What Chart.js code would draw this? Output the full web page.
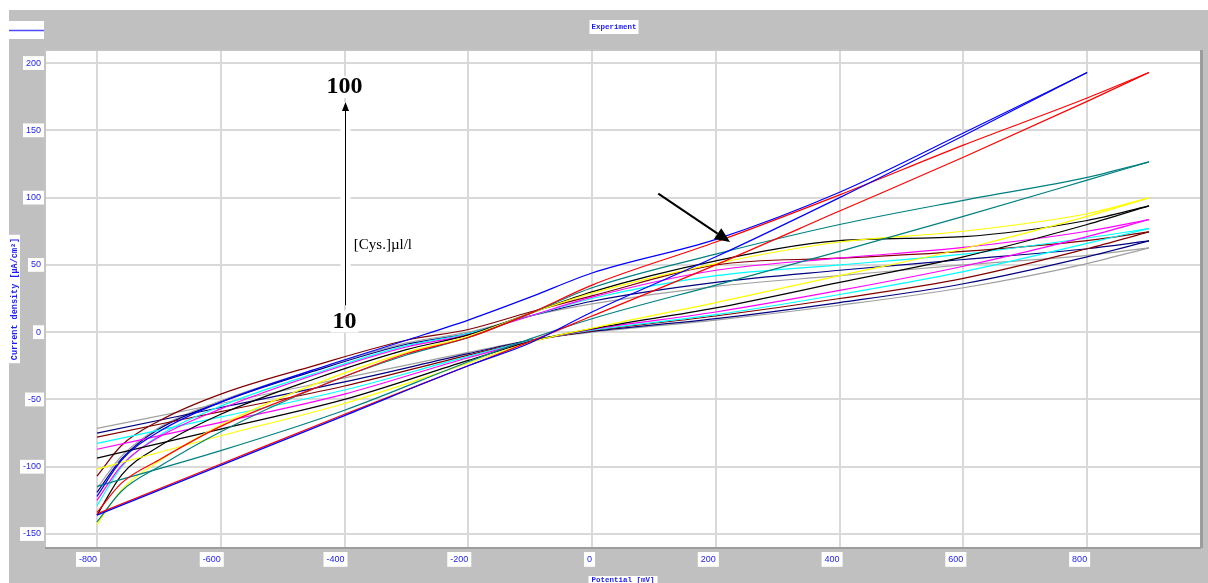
<!DOCTYPE html>
<html>
<head>
<meta charset="utf-8">
<script src="https://cdn.jsdelivr.net/npm/chart.js@4.4.1/dist/chart.umd.min.js"></script>
<style>
  html, body { margin: 0; padding: 0; background: #ffffff; }
  canvas { display: block; }
</style>
</head>
<body>
<canvas id="cv" width="1208" height="583"></canvas>
<script>
// Potential steps (mV) of the anodic (upper) and return (lower) sweeps
const upPotential   = [-800, -760, -700, -600, -450, -300, -200, -100, 0, 200, 400, 600, 800, 900];
const downPotential = [-800, -600, -400, -200, -100, 0, 200, 400, 600, 800, 900];

// Current density (µA/cm²), one pair of arrays per cysteine concentration
const cys10Up    = [-116, -92, -71, -51, -28, -8, 0, 12, 21, 34, 42, 50, 57, 62.7];
const cys10Down  = [-71.5, -53, -34, -15, -6, 0, 9, 20, 33, 51, 62.7];
const cys20Up    = [-119, -94, -72, -52, -29, -9, -1, 12, 23, 37, 46, 54, 62, 67.8];
const cys20Down  = [-75, -56, -37, -16, -6, 0.5, 10, 22, 36, 56, 67.8];
const cys30Up    = [-107, -84, -66, -46, -25, -6, 2, 15, 27, 50, 55, 60, 68, 74.5];
const cys30Down  = [-78, -59, -40, -17, -6.5, 1, 12, 25, 40, 62, 74.5];
const cys40Up    = [-129, -100, -77, -55, -31, -10, -1, 12, 25, 42, 50, 58, 70, 77];
const cys40Down  = [-82.6, -63, -43, -18, -6.5, 1.5, 13, 28, 45, 66, 77];
const cys50Up    = [-125, -99, -78, -57, -32, -11, -2, 12, 26, 46, 55, 63, 75, 83.7];
const cys50Down  = [-87, -67, -46, -19, -7, 2, 15, 31, 49, 71, 83.7];
const cys60Up    = [-136, -106, -85, -61, -35, -13, -2, 14, 30, 53, 68, 71, 83, 93.9];
const cys60Down  = [-93.6, -72, -50, -21, -7, 2.5, 18, 37, 56, 80, 93.9];
const cys70Up    = [-143, -117, -96, -69, -39, -15, -3, 14, 29, 51, 67, 75, 88, 99.8];
const cys70Down  = [-101.8, -77, -53, -23, -7.5, 3, 22, 42, 62, 86, 99.8];
const cys80Up    = [-141, -118, -100, -74, -42, -17, -4, 14, 33, 58, 80, 98, 115, 126.6];
const cys80Down  = [-114.6, -88, -58, -22, -5, 10, 35, 60, 86, 113, 126.6];
const cys90Up    = [-134, -112, -95, -70, -42, -16, -4, 14, 35, 67, 102, 139, 174, 193];
const cys90Down  = [-135, -98, -61, -25, -7, 12, 50, 90, 130, 171.5, 193];
const cys100Up   = [-122, -95, -74, -52, -28, -6, 9, 26, 44, 69, 104, 148, 193, null];
const cys100Down = [-136, -99, -62, -25, -8, 15, 56, 100, 146, 193, null];

const curveColors = ['#0000ff', '#ff0000', '#008080', '#ffff00', '#000000',
                     '#ff00ff', '#00ffff', '#800000', '#000080', '#a0a0a0'];

// Axis tick values
const potentialTicks = [-800, -600, -400, -200, 0, 200, 400, 600, 800];
const currentTicks   = [-150, -100, -50, 0, 50, 100, 150, 200];

// Concentration arrow and pointer, placed in data units
const concArrow = { x: -400, from: 20, to: 171 };
const concLabelHigh = { x: -400, y: 182, text: '100' };
const concLabelLow  = { x: -400, y: 8, text: '10' };
const concUnit = { x: -385, y: 65, text: '[Cys.]µl/l' };
const pointer = { x0: 107, y0: 103, x1: 223, y1: 67 };

const series = [
  { name: '100', color: curveColors[0], up: cys100Up, down: cys100Down },
  { name: '90',  color: curveColors[1], up: cys90Up,  down: cys90Down },
  { name: '80',  color: curveColors[2], up: cys80Up,  down: cys80Down },
  { name: '70',  color: curveColors[3], up: cys70Up,  down: cys70Down },
  { name: '60',  color: curveColors[4], up: cys60Up,  down: cys60Down },
  { name: '50',  color: curveColors[5], up: cys50Up,  down: cys50Down },
  { name: '40',  color: curveColors[6], up: cys40Up,  down: cys40Down },
  { name: '30',  color: curveColors[7], up: cys30Up,  down: cys30Down },
  { name: '20',  color: curveColors[8], up: cys20Up,  down: cys20Down },
  { name: '10',  color: curveColors[9], up: cys10Up,  down: cys10Down }
];

function toPoints(xs, ys) {
  return xs.map((x, i) => ({ x: x, y: ys[i] })).filter(p => p.y !== null && p.y !== undefined);
}

const datasets = [];
series.forEach(s => {
  [['up', upPotential], ['down', downPotential]].forEach(([key, xs]) => {
    datasets.push({
      label: s.name + ' µl/l ' + key,
      data: toPoints(xs, s[key]),
      borderColor: s.color,
      backgroundColor: s.color,
      borderWidth: 1.2,
      showLine: true,
      pointRadius: 0,
      pointHoverRadius: 0,
      cubicInterpolationMode: 'monotone',
      fill: false
    });
  });
});

const BLUE_TEXT = '#1a1aff';
const MONO = '"Liberation Mono", "DejaVu Sans Mono", monospace';

const decorations = {
  id: 'decorations',
  beforeDraw(chart) {
    const { ctx, chartArea: a, width, height } = chart;
    ctx.save();
    ctx.fillStyle = '#ffffff';
    ctx.fillRect(0, 0, width, height);
    ctx.fillStyle = '#c0c0c0';
    ctx.fillRect(9, 10, width - 9, height - 10);
    ctx.fillStyle = '#ffffff';
    ctx.fillRect(a.left, a.top, a.right - a.left, a.bottom - a.top);

    // legend swatch
    ctx.fillRect(9, 21, 35, 18);
    ctx.strokeStyle = '#4d4dff';
    ctx.lineWidth = 1.5;
    ctx.beginPath(); ctx.moveTo(9, 30.5); ctx.lineTo(44, 30.5); ctx.stroke();

    // chart title
    ctx.font = 'bold 7.5px ' + MONO;
    const tw = ctx.measureText('Experiment').width;
    const tcx = 614, tcy = 27;
    ctx.fillStyle = '#ffffff';
    ctx.fillRect(tcx - tw / 2 - 2, 20, tw + 4, 14);
    ctx.fillStyle = BLUE_TEXT;
    ctx.textAlign = 'center';
    ctx.textBaseline = 'middle';
    ctx.fillText('Experiment', tcx, tcy);

    // white backdrops behind the axis titles
    const yTitle = chart.options.scales.y.title;
    ctx.font = 'bold ' + yTitle.font.size + 'px ' + MONO;
    const yw = ctx.measureText(yTitle.text).width;
    const ymid = (a.top + a.bottom) / 2;
    ctx.fillStyle = '#ffffff';
    ctx.fillRect(9, ymid - yw / 2 - 3, 11, yw + 6);

    const xTitle = chart.options.scales.x.title;
    ctx.font = 'bold ' + xTitle.font.size + 'px ' + MONO;
    const xw = ctx.measureText(xTitle.text).width;
    const xmid = (a.left + a.right) / 2;
    ctx.fillRect(xmid - xw / 2 - 3, 576, xw + 6, 8);
    ctx.restore();
  },
  beforeDatasetsDraw(chart) {
    const { ctx, chartArea: a } = chart;
    ctx.save();
    ctx.lineWidth = 2;
    ctx.strokeStyle = '#c4c4c4';
    ctx.beginPath();
    ctx.moveTo(a.left, a.bottom); ctx.lineTo(a.left, a.top); ctx.lineTo(a.right, a.top);
    ctx.stroke();
    ctx.strokeStyle = '#9c9c9c';
    ctx.beginPath(); ctx.moveTo(a.left, a.bottom); ctx.lineTo(a.right, a.bottom); ctx.stroke();
    ctx.lineWidth = 3;
    ctx.beginPath(); ctx.moveTo(a.right + 0.5, a.top); ctx.lineTo(a.right + 0.5, a.bottom); ctx.stroke();
    ctx.restore();
  },
  afterDatasetsDraw(chart) {
    const { ctx, scales: { x, y } } = chart;
    ctx.save();

    // concentration arrow
    const ax = Math.round(x.getPixelForValue(concArrow.x)) + 0.5;
    const yFrom = y.getPixelForValue(concArrow.from);
    const yTip = y.getPixelForValue(concArrow.to);
    ctx.fillStyle = '#ffffff';
    ctx.fillRect(ax - 5, yTip, 10, yFrom - yTip);
    ctx.strokeStyle = '#000000';
    ctx.lineWidth = 1;
    ctx.beginPath(); ctx.moveTo(ax, yFrom); ctx.lineTo(ax, yTip + 6); ctx.stroke();
    ctx.fillStyle = '#000000';
    ctx.beginPath();
    ctx.moveTo(ax, yTip); ctx.lineTo(ax - 3.5, yTip + 9); ctx.lineTo(ax + 3.5, yTip + 9);
    ctx.closePath(); ctx.fill();

    // concentration labels
    ctx.font = 'bold 24px "Liberation Serif", "Times New Roman", serif';
    ctx.textAlign = 'center';
    ctx.textBaseline = 'middle';
    [concLabelHigh, concLabelLow].forEach(l => {
      const px = x.getPixelForValue(l.x), py = y.getPixelForValue(l.y);
      const w = ctx.measureText(l.text).width;
      ctx.fillStyle = '#ffffff';
      ctx.fillRect(px - w / 2 - 2, py - 11, w + 4, 22);
      ctx.fillStyle = '#000000';
      ctx.fillText(l.text, px, py);
    });

    ctx.font = '15px "Liberation Serif", "Times New Roman", serif';
    ctx.textAlign = 'left';
    ctx.fillStyle = '#000000';
    ctx.fillText(concUnit.text, x.getPixelForValue(concUnit.x), y.getPixelForValue(concUnit.y));

    // pointer arrow
    const p0x = x.getPixelForValue(pointer.x0), p0y = y.getPixelForValue(pointer.y0);
    const p1x = x.getPixelForValue(pointer.x1), p1y = y.getPixelForValue(pointer.y1);
    const len = Math.hypot(p1x - p0x, p1y - p0y);
    const dx = (p1x - p0x) / len, dy = (p1y - p0y) / len;
    const headLen = 15, headHalf = 6.5;
    const bx = p1x - dx * headLen, by = p1y - dy * headLen;
    ctx.strokeStyle = '#000000';
    ctx.lineWidth = 2;
    ctx.beginPath(); ctx.moveTo(p0x, p0y); ctx.lineTo(bx, by); ctx.stroke();
    ctx.beginPath();
    ctx.moveTo(p1x, p1y);
    ctx.lineTo(bx - dy * headHalf, by + dx * headHalf);
    ctx.lineTo(bx + dy * headHalf, by - dx * headHalf);
    ctx.closePath(); ctx.fill();
    ctx.restore();
  }
};

Chart.defaults.font.family = '"Liberation Sans", Arial, sans-serif';

new Chart(document.getElementById('cv'), {
  type: 'scatter',
  data: { datasets: datasets },
  options: {
    responsive: false,
    animation: false,
    devicePixelRatio: 1,
    layout: { padding: { left: 0, top: 50, right: 7, bottom: 0 } },
    plugins: {
      legend: { display: false },
      tooltip: { enabled: false },
      title: { display: false }
    },
    scales: {
      x: {
        type: 'linear',
        min: -884,
        max: 984,
        afterBuildTicks: s => { s.ticks = potentialTicks.map(v => ({ value: v })); },
        afterFit: s => { s.height = 35; },
        grid: { color: '#d9d9d9', lineWidth: 2, drawTicks: false },
        border: { display: false },
        ticks: {
          color: BLUE_TEXT, font: { size: 9 }, padding: 6, align: 'end',
          maxRotation: 0, autoSkip: false,
          showLabelBackdrop: true, backdropColor: '#ffffff', backdropPadding: { x: 3, y: 2 }
        },
        title: {
          display: true, text: 'Potential [mV]', color: BLUE_TEXT,
          font: { family: MONO, size: 7.5, weight: 'bold' },
          padding: { top: 0, bottom: -2 }
        }
      },
      y: {
        type: 'linear',
        min: -160.4,
        max: 209.7,
        afterBuildTicks: s => { s.ticks = currentTicks.map(v => ({ value: v })); },
        afterFit: s => { s.width = 45; },
        grid: { color: '#d9d9d9', lineWidth: 2, drawTicks: false },
        border: { display: false },
        ticks: {
          color: BLUE_TEXT, font: { size: 9 }, padding: 4,
          showLabelBackdrop: true, backdropColor: '#ffffff', backdropPadding: { x: 3, y: 1.5 }
        },
        title: {
          display: true, text: 'Current density [µA/cm²]', color: BLUE_TEXT,
          font: { family: MONO, size: 8.5, weight: 'bold' },
          padding: { top: 9.4, bottom: 0 }
        }
      }
    }
  },
  plugins: [decorations]
});
</script>
</body>
</html>
